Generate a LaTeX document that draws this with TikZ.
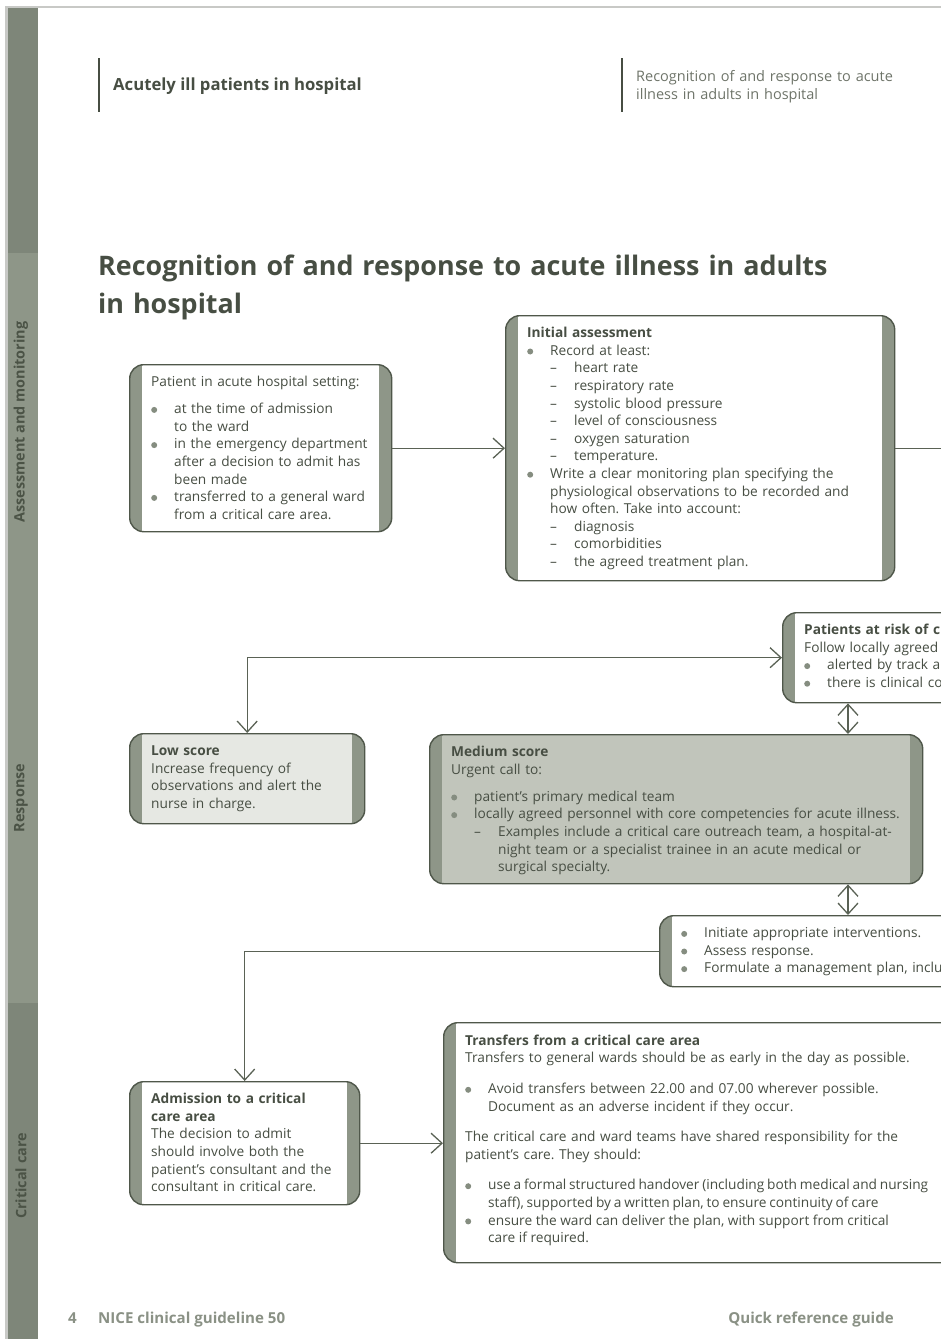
\documentclass[tikz,border=0pt]{standalone}
\usepackage{fontspec}
\setmainfont{Open Sans}
\usetikzlibrary{arrows.meta}
\frenchspacing

\definecolor{ink}{HTML}{474E43}
\definecolor{edge}{HTML}{4F574A}
\definecolor{wire}{HTML}{5A6255}
\definecolor{barc}{HTML}{8E9688}
\definecolor{bardk}{HTML}{7E8679}
\definecolor{sidetext}{HTML}{4B5346}
\definecolor{lowfill}{HTML}{E6E8E3}
\definecolor{medfill}{HTML}{C1C5BB}
\definecolor{hdgray}{HTML}{6E7469}
\definecolor{ftgray}{HTML}{8A9185}
\definecolor{frame}{HTML}{C8C9C6}
\definecolor{dotgray}{HTML}{858D80}

\newcommand{\bdot}{\tikz[baseline]\fill[dotgray] (0pt,0.27em) circle (3pt);}
\newcommand{\bfirst}{\hangindent=23pt\hangafter=1\makebox[23pt][l]{\bdot}}
\newcommand{\bitem}{\par\noindent\bfirst}
\newcommand{\ditem}{\par\noindent\hangindent=47pt\hangafter=1\hspace*{23pt}\makebox[24pt][l]{\textendash}}
\newcommand{\gap}[1]{\par\vspace{#1}}

\begin{document}
\begin{tikzpicture}[x=1pt,y=-1pt,
    box/.style={draw=edge, line width=1.4pt, rounded corners=14pt, fill=white, inner sep=0pt, anchor=north west},
    bars/.style={path picture={
      \fill[barc, sharp corners] (path picture bounding box.north west) rectangle ([xshift=12.5pt]path picture bounding box.south west);
      \fill[barc, sharp corners] ([xshift=-13pt]path picture bounding box.north east) rectangle (path picture bounding box.south east);}},
    lbar/.style={path picture={
      \fill[barc, sharp corners] (path picture bounding box.north west) rectangle ([xshift=12.5pt]path picture bounding box.south west);}},
    txt/.style={anchor=base west, inner sep=0pt, text width=640pt, align=left, text=ink, font=\fontsize{13.7pt}{17.6pt}\selectfont},
    conn/.style={draw=wire, line width=1.3pt},
    arr/.style={conn, -{Straight Barb[length=11pt,width=20pt]}},
    both/.style={conn, {Straight Barb[length=11pt,width=20pt]}-{Straight Barb[length=11pt,width=20pt]}},
    side/.style={rotate=90, inner sep=0pt, text=sidetext, font=\bfseries\fontsize{14.4pt}{16pt}\selectfont}]

  \useasboundingbox (0,0) rectangle (941,1339);
  \clip (0,0) rectangle (941,1339);

  % page frame and section bar
  \fill[frame] (5,6) rectangle (941,8);
  \fill[frame] (5,6) rectangle (8,1339);
  \fill[bardk] (8,8) rectangle (38,253);
  \fill[barc] (8,253) rectangle (38,1003);
  \fill[bardk] (8,1003) rectangle (38,1339);
  \node[side] (secA) at (21,422) {Assessment and monitoring};
  \node[side] (secR) at (21,798) {Response};
  \node[side] (secC) at (21,1176) {Critical care};

  % running head
  \draw[ink, line width=2.6pt] (99,58) -- (99,112);
  \node[anchor=base west, inner sep=0pt, text=ink, font=\bfseries\fontsize{16.7pt}{20pt}\selectfont] (runhead) at (113,90) {Acutely ill patients in hospital};
  \draw[ink, line width=1.4pt] (622,58) -- (622,112);
  \node[anchor=base west, inner sep=0pt, text width=300pt, align=left, text=hdgray, font=\fontsize{14.5pt}{18pt}\selectfont] (runsub) at (636,81) {Recognition of and response to acute\newline illness in adults in hospital};

  \node[anchor=base west, inner sep=0pt, text width=800pt, align=left, text=ink, font=\bfseries\fontsize{26.9pt}{38pt}\selectfont] (title) at (98,275) {Recognition of and response to acute illness in adults\newline in hospital};

  % boxes
  \node[box, bars, minimum width=262pt, minimum height=167pt] (patient) at (129,364) {};
  \node[box, bars, minimum width=389pt, minimum height=265pt] (initial) at (505,315) {};
  \node[box, lbar, minimum width=300pt, minimum height=90pt] (risk) at (782,612) {};
  \node[box, bars, fill=lowfill, minimum width=235pt, minimum height=90pt] (low) at (129,733) {};
  \node[box, bars, fill=medfill, minimum width=493pt, minimum height=149pt] (medium) at (429,734) {};
  \node[box, lbar, minimum width=340pt, minimum height=71pt] (initiate) at (659,915) {};
  \node[box, bars, minimum width=230pt, minimum height=123pt] (admission) at (129,1081) {};
  \node[box, lbar, minimum width=560pt, minimum height=240pt] (transfers) at (443,1022) {};

  \node[txt] (patientT) at ([shift={(22pt,-22.6pt)}]patient.north west) {Patient in acute hospital setting:\gap{9.4pt}\bitem at the time of admission\newline to the ward\bitem in the emergency department\newline after a decision to admit has\newline been made\bitem transferred to a general ward\newline from a critical care area.\par};
  \node[txt] (initialT) at ([shift={(22pt,-22.6pt)}]initial.north west) {\textbf{Initial assessment}\bitem Record at least:\ditem heart rate\ditem respiratory rate\ditem systolic blood pressure\ditem level of consciousness\ditem oxygen saturation\ditem temperature.\bitem Write a clear monitoring plan specifying the\newline physiological observations to be recorded and\newline how often. Take into account:\ditem diagnosis\ditem comorbidities\ditem the agreed treatment plan.\par};
  \node[txt] (riskT) at ([shift={(22pt,-22.6pt)}]risk.north west) {\textbf{Patients at risk of c}\newline Follow locally agreed\bitem alerted by track a\bitem there is clinical co\par};
  \node[txt] (lowT) at ([shift={(22pt,-22.6pt)}]low.north west) {\textbf{Low score}\newline Increase frequency of\newline observations and alert the\newline nurse in charge.\par};
  \node[txt] (mediumT) at ([shift={(22pt,-22.6pt)}]medium.north west) {\textbf{Medium score}\newline Urgent call to:\gap{9.4pt}\bitem patient’s primary medical team\bitem locally agreed personnel with core competencies for acute illness.\ditem Examples include a critical care outreach team, a hospital-at-\newline night team or a specialist trainee in an acute medical or\newline surgical specialty.\par};
  \node[txt] (initiateT) at ([shift={(22pt,-22.6pt)}]initiate.north west) {\bfirst Initiate appropriate interventions.\bitem Assess response.\bitem Formulate a management plan, inclu\par};
  \node[txt] (admissionT) at ([shift={(22pt,-22.6pt)}]admission.north west) {\textbf{Admission to a critical\newline care area}\newline The decision to admit\newline should involve both the\newline patient’s consultant and the\newline consultant in critical care.\par};
  \node[txt] (transfersT) at ([shift={(22pt,-23.3pt)}]transfers.north west) {\textbf{Transfers from a critical care area}\newline Transfers to general wards should be as early in the day as possible.\gap{13pt}\bitem Avoid transfers between 22.00 and 07.00 wherever possible.\newline Document as an adverse incident if they occur.\gap{13pt}The critical care and ward teams have shared responsibility for the\newline patient’s care. They should:\gap{13pt}\bitem\spaceskip=2.8pt use a formal structured handover (including both medical and nursing\newline staff), supported by a written plan, to ensure continuity of care\bitem\spaceskip=0pt ensure the ward can deliver the plan, with support from critical\newline care if required.\par};

  % connectors
  \coordinate (edgeR) at (941,447.5);
  \draw[arr] (patient.east) -- (initial.west);
  \draw[conn] (initial.east) -- (initial.east -| edgeR);
  \draw[both] (low.north) |- (risk.west);
  \draw[both] ([xshift=66pt]risk.south west) -- ([xshift=66pt]risk.south west |- medium.north);
  \draw[both] ([xshift=419pt]medium.south west) -- ([xshift=419pt]medium.south west |- initiate.north);
  \draw[arr] (initiate.west) -| (admission.north);
  \draw[arr] (admission.east) -- (admission.east -| transfers.west);

  % footer
  \node[anchor=base west, inner sep=0pt, text=ftgray, font=\bfseries\fontsize{15.1pt}{17pt}\selectfont] (pageno) at (68,1323.5) {4};
  \node[anchor=base west, inner sep=0pt, text=ftgray, font=\bfseries\fontsize{15.1pt}{17pt}\selectfont] (guide) at (98,1323.5) {NICE clinical guideline 50};
  \node[anchor=base east, inner sep=0pt, text=ftgray, font=\bfseries\fontsize{15.1pt}{17pt}\selectfont] (qrg) at (894,1323.5) {Quick reference guide};
\end{tikzpicture}
\end{document}
